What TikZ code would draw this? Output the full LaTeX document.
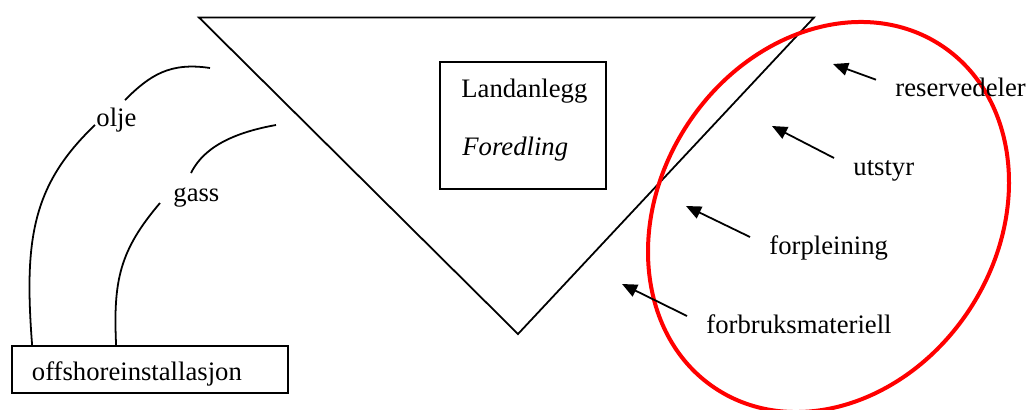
\documentclass[tikz,border=0pt]{standalone}
\usepackage{fontspec}
\setmainfont{Liberation Serif}
\usetikzlibrary{arrows.meta}

\begin{document}
\begin{tikzpicture}
	[x=0.45pt,y=-0.45pt,font=\fontsize{12}{14.4}\selectfont,
	lbl/.style={anchor=base west, inner sep=0},
	boks/.style={draw, line width=0.8pt},
	linje/.style={line width=0.8pt},
	pil/.style={-{Triangle[length=6.8pt,width=5.8pt]}, line width=0.8pt}]
	\useasboundingbox (0,0) rectangle (1028,410);
	\draw[linje] (199,17.5) -- (814,17.5) -- (518,334) -- cycle;
	\node[boks, minimum width=74.7pt, minimum height=57.2pt] (land) at (523,125.5) {};
	\node[lbl] (landanlegg) at (461,97) {Landanlegg};
	\node[lbl] (foredling) at (462,155) {\textit{Foredling}};
	\node[boks, minimum width=124.2pt, minimum height=21.2pt, text width=106.2pt, inner xsep=9pt, text height=9.5pt, text depth=0pt, align=left] (off) at (150,369.5) {offshoreinstallasjon};
	\node[lbl] (olje) at (96,126) {olje};
	\node[lbl] (gass) at (173,201) {gass};
	\coordinate (olje-ende) at (210,68);
	\coordinate (gass-ende) at (276,125);
	\draw[linje] ([shift={(21,0)}]off.north west) .. controls (24,240) and (32,185) .. ([shift={(-1,-1)}]olje.base west);
	\draw[linje] ([shift={(29,-26)}]olje.base west) .. controls (150,75) and (170,62) .. (olje-ende);
	\draw[linje] ([shift={(105,0)}]off.north west) .. controls (113,280) and (120,250) .. ([shift={(-13,2)}]gass.base west);
	\draw[linje] ([shift={(18,-28)}]gass.base west) .. controls (200,155) and (220,135) .. (gass-ende);
	% det som fraktes ut
	\draw[red, line width=1.8pt] (828.5,217) ellipse [x radius=75.9pt, y radius=92.4pt, rotate=-33.3];
	\node[lbl] (resv) at (895,96.7) {reservedeler};
	\node[lbl] (utst) at (853,175) {utstyr};
	\node[lbl] (forp) at (769,254) {forpleining};
	\node[lbl] (forb) at (706,333) {forbruksmateriell};
	\coordinate (resv-tipp) at (833,64);
	\coordinate (utst-tipp) at (772,126);
	\coordinate (forp-tipp) at (686,206);
	\coordinate (forb-tipp) at (622,284);
	\foreach \n in {resv,utst,forp,forb}
		\draw[pil] ([shift={(-19,-17)}]\n.base west) -- (\n-tipp);
\end{tikzpicture}
\end{document}
